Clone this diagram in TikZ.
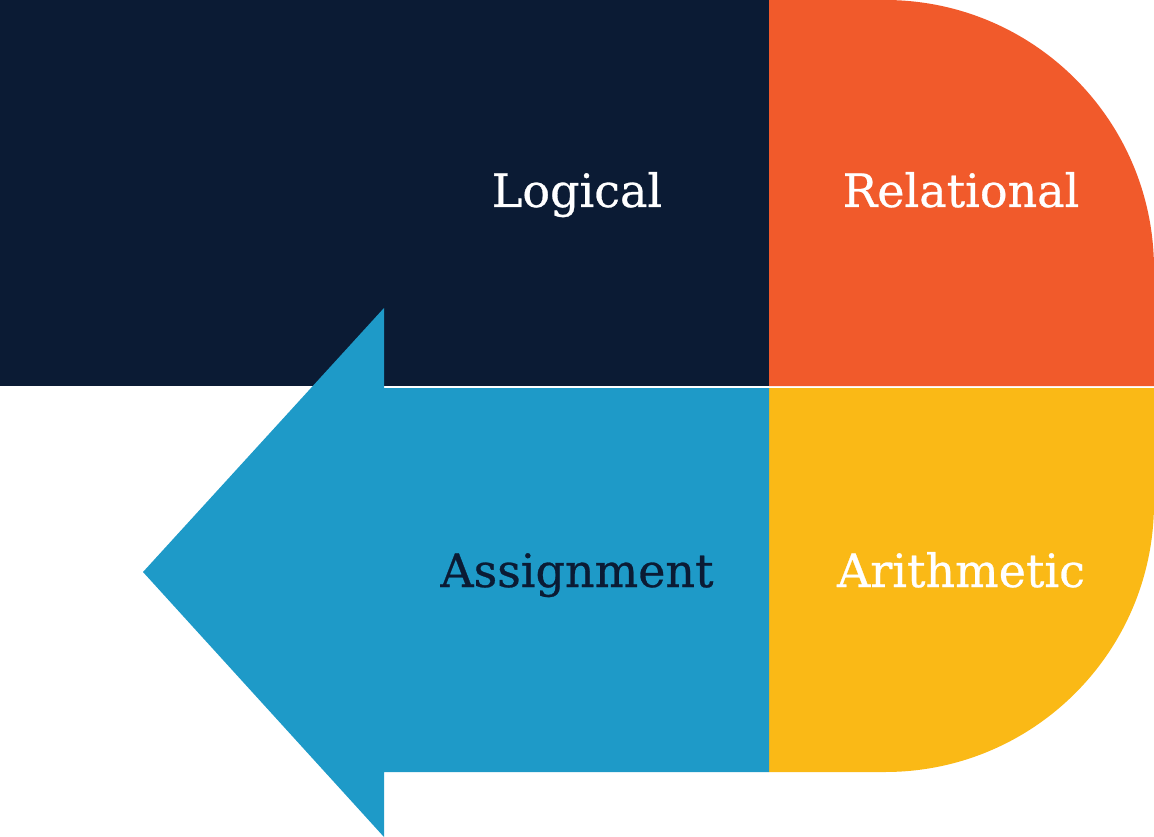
\documentclass[tikz,border=0pt]{standalone}
\usepackage{fontspec}
\setmainfont[FakeBold=0.6]{DejaVu Serif}
\definecolor{navy}{HTML}{0B1B34}
\definecolor{flame}{HTML}{F15A2B}
\definecolor{amber}{HTML}{FAB916}
\definecolor{sky}{HTML}{1E9AC8}
\begin{document}
\begin{tikzpicture}[x=1pt,y=-1pt,
  word/.style={font=\fontsize{46}{54}\selectfont, anchor=base, inner sep=0pt}]
\useasboundingbox (0,0) rectangle (1154,837);
% top-left block
\fill[navy] (0,0) rectangle (769,386);
% top-right block with rounded outer corner
\fill[flame] (769,386) -- (769,0) -- (885,0)
  arc[start angle=270, end angle=360, radius=269] -- (1154,386) -- cycle;
% bottom-right block with rounded outer corner
\fill[amber] (769,388) -- (1154,388) -- (1154,503)
  arc[start angle=0, end angle=90, radius=269] -- (769,772) -- cycle;
% left-pointing arrow
\fill[sky] (769,388) -- (384,388) -- (384,308) -- (143,572) -- (384,837)
  -- (384,772) -- (769,772) -- cycle;
% labels
\node[word, text=white] (logical) at (577,207) {Logical};
\node[word, text=white] (relational) at (961,207) {Relational};
\node[word, text=navy] (assignment) at (577,587) {Assignment};
\node[word, text=white] (arithmetic) at (961,587) {Arithmetic};
\end{tikzpicture}
\end{document}
